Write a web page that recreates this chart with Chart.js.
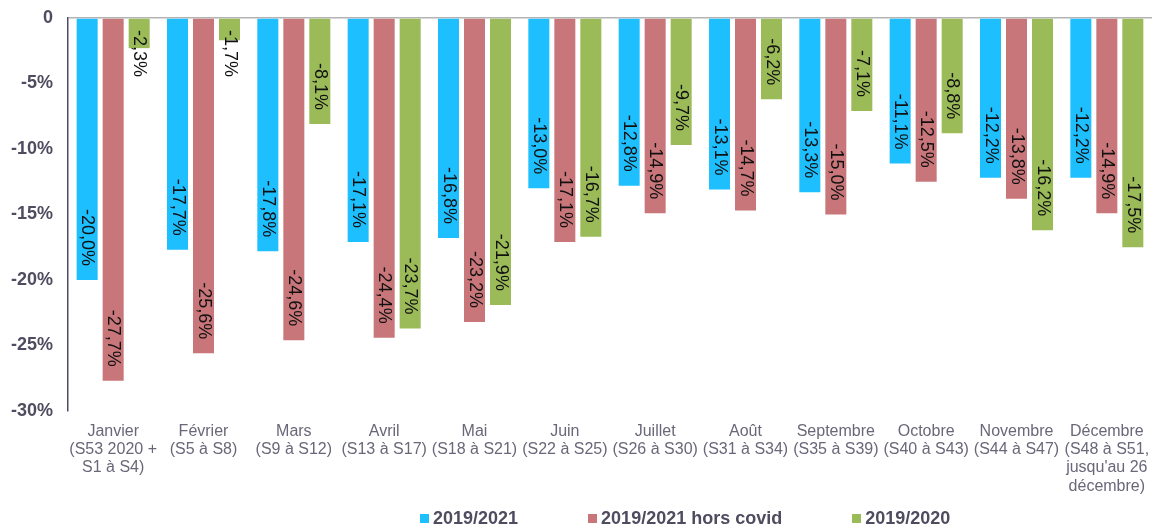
<!DOCTYPE html>
<html lang="fr">
<head>
<meta charset="utf-8">
<title>Évolution mensuelle 2019/2021</title>
<script src="https://cdn.jsdelivr.net/npm/chart.js@4.4.1/dist/chart.umd.min.js"></script>
<style>
  html, body { margin: 0; padding: 0; background: #fff; }
  #wrap { position: relative; width: 1154px; height: 529px; }
  #legend {
    position: absolute; left: 420px; top: 508px; height: 20px;
    display: flex; gap: 70px;
    font: bold 18px 'Liberation Sans', Arial, sans-serif; color: #504c5f;
  }
  .item { display: flex; align-items: center; line-height: 20px; white-space: nowrap; }
  .swatch { width: 9px; height: 9px; margin-right: 4px; }
</style>
</head>
<body>
<div id="wrap">
  <canvas id="chart" width="1154" height="529"></canvas>
  <div id="legend"></div>
</div>
<script>
const months = [
  ['Janvier', '(S53 2020 +', 'S1 à S4)'],
  ['Février', '(S5 à S8)'],
  ['Mars', '(S9 à S12)'],
  ['Avril', '(S13 à S17)'],
  ['Mai', '(S18 à S21)'],
  ['Juin', '(S22 à S25)'],
  ['Juillet', '(S26 à S30)'],
  ['Août', '(S31 à S34)'],
  ['Septembre', '(S35 à S39)'],
  ['Octobre', '(S40 à S43)'],
  ['Novembre', '(S44 à S47)'],
  ['Décembre', '(S48 à S51,', "jusqu'au 26", 'décembre)']
];

const seriesNames = ['2019/2021', '2019/2021 hors covid', '2019/2020'];
const vs2021 = [-20.0, -17.7, -17.8, -17.1, -16.8, -13.0, -12.8, -13.1, -13.3, -11.1, -12.2, -12.2];
const vs2021HorsCovid = [-27.7, -25.6, -24.6, -24.4, -23.2, -17.1, -14.9, -14.7, -15.0, -12.5, -13.8, -14.9];
const vs2020 = [-2.3, -1.7, -8.1, -23.7, -21.9, -16.7, -9.7, -6.2, -7.1, -8.8, -16.2, -17.5];
const colors = ['#1dbfff', '#c8767a', '#9bbb59'];

const yTicks = { min: -30, max: 0, step: 5 };

const FONT = "'Liberation Sans', Arial, sans-serif";

function fmtPct(v) {
  return v.toFixed(1).replace('.', ',') + '%';
}

// values written vertically inside the end of each bar
const barLabels = {
  id: 'barLabels',
  afterDatasetsDraw(chart) {
    const { ctx } = chart;
    const zeroY = chart.scales.y.getPixelForValue(0);
    ctx.save();
    ctx.font = '18px ' + FONT;
    ctx.fillStyle = '#111';
    ctx.textAlign = 'left';
    ctx.textBaseline = 'middle';
    chart.data.datasets.forEach((ds, i) => {
      chart.getDatasetMeta(i).data.forEach((bar, j) => {
        const text = fmtPct(ds.data[j]);
        const w = ctx.measureText(text).width;
        const start = Math.max(zeroY + 12, bar.y - 14 - w);
        ctx.save();
        ctx.translate(bar.x, start);
        ctx.rotate(Math.PI / 2);
        ctx.fillText(text, 0, 0);
        ctx.restore();
      });
    });
    ctx.restore();
  }
};

const datasets = [vs2021, vs2021HorsCovid, vs2020].map((data, i) => ({
  label: seriesNames[i],
  data,
  backgroundColor: colors[i],
  borderWidth: 0,
  categoryPercentage: 0.8635,
  barPercentage: 0.808
}));

new Chart(document.getElementById('chart'), {
  type: 'bar',
  data: { labels: months, datasets },
  plugins: [barLabels],
  options: {
    responsive: false,
    animation: false,
    layout: { padding: { left: 11, top: 18, right: 2, bottom: 33 } },
    plugins: {
      legend: { display: false },
      tooltip: { enabled: false }
    },
    scales: {
      x: {
        grid: { display: false, drawTicks: false },
        border: { display: false },
        // keep the plot edges fixed, labels may hang over them
        afterFit: s => { s.height = 85; s.paddingLeft = 0; s.paddingRight = 0; },
        ticks: {
          autoSkip: false,
          maxRotation: 0,
          minRotation: 0,
          padding: 11,
          color: '#6a6778',
          font: { family: FONT, size: 16, lineHeight: 1.15 }
        }
      },
      y: {
        min: yTicks.min,
        max: yTicks.max,
        afterFit: s => { s.width = 57; s.paddingTop = 0; s.paddingBottom = 0; },
        grid: {
          drawTicks: false,
          lineWidth: 1.5,
          color: c => (c.tick && c.tick.value === 0 ? '#b4b4b4' : 'rgba(0,0,0,0)')
        },
        border: { display: true, color: '#504c5f', width: 1.5 },
        ticks: {
          stepSize: yTicks.step,
          padding: 15,
          color: '#504c5f',
          font: { family: FONT, size: 18, weight: 'bold' },
          callback: v => (v === 0 ? '0' : v + '%')
        }
      }
    }
  }
});

// legend row under the axis labels
const legend = document.getElementById('legend');
seriesNames.forEach((name, i) => {
  const item = document.createElement('div');
  item.className = 'item';
  item.innerHTML = `<span class="swatch" style="background:${colors[i]}"></span>${name}`;
  legend.appendChild(item);
});
</script>
</body>
</html>
